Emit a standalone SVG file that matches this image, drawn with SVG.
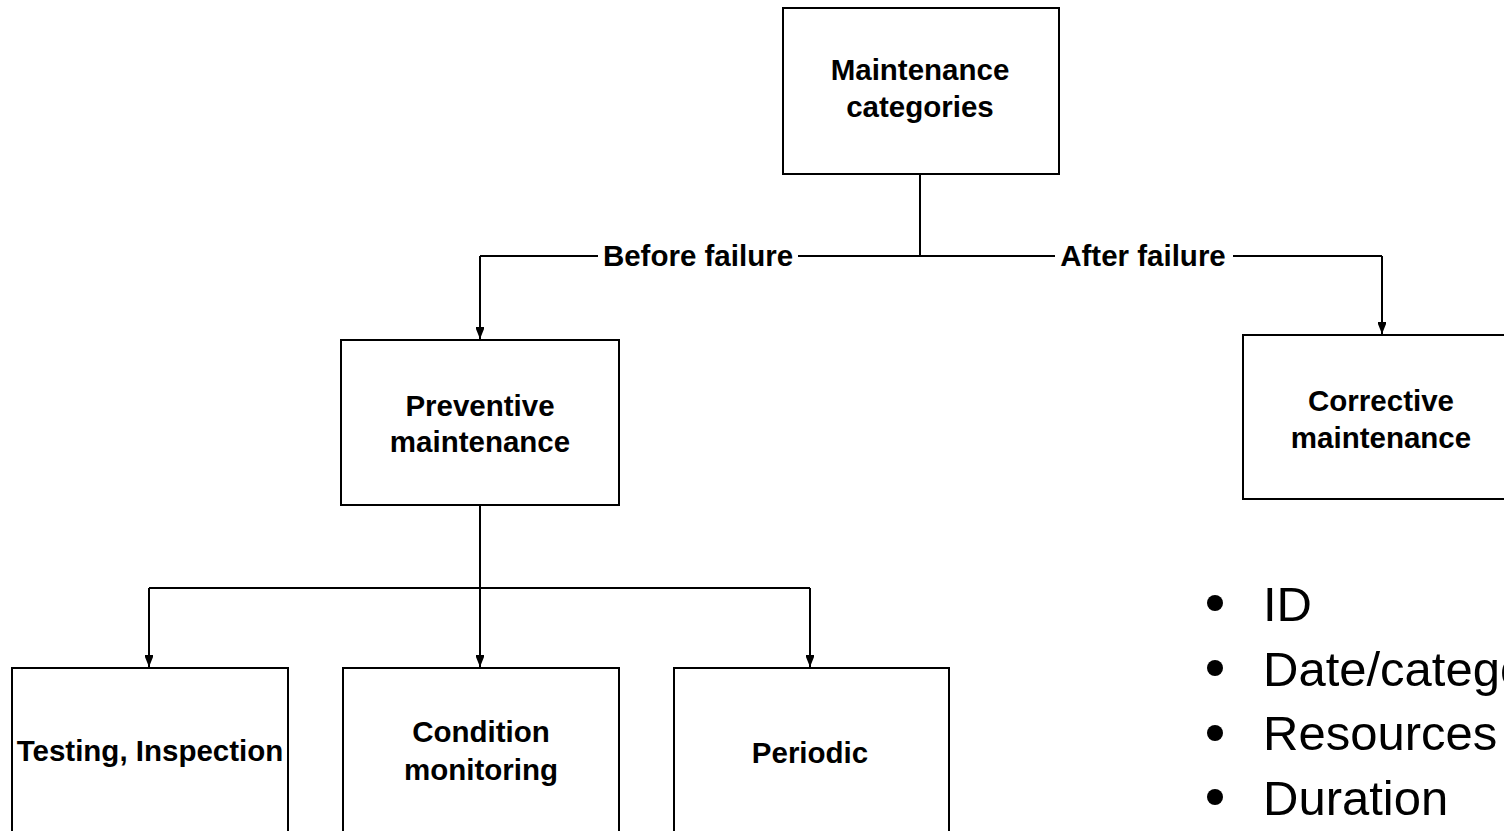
<svg xmlns="http://www.w3.org/2000/svg" width="1504" height="831" viewBox="0 0 1504 831">
<defs>
<marker id="arr" viewBox="0 0 10 12" refX="5" refY="12" markerWidth="10" markerHeight="12" markerUnits="userSpaceOnUse" orient="0">
<path d="M1,0 L9,0 L9,2 L5,12 L1,2 Z" fill="#000"/>
</marker>
<style>
.box{fill:#fff;stroke:#000;stroke-width:2}
.t{font-family:"Liberation Sans",Arial,sans-serif;font-weight:bold;font-size:29.5px;text-anchor:middle;fill:#000}
.c{fill:none;stroke:#000;stroke-width:2}
.b{font-family:"Liberation Sans",Arial,sans-serif;font-size:49px;fill:#000}
</style>
</defs>
<rect width="1504" height="831" fill="#fff"/>
<g id="connectors">
<path class="c" d="M920,174 V256 M480,256 H920 H1382"/>
<path class="c" d="M480,256 V339" marker-end="url(#arr)"/>
<path class="c" d="M1382,256 V334" marker-end="url(#arr)"/>
<path class="c" d="M480,505 V667" marker-end="url(#arr)"/>
<path class="c" d="M149,588 H810"/>
<path class="c" d="M149,588 V667" marker-end="url(#arr)"/>
<path class="c" d="M810,588 V667" marker-end="url(#arr)"/>
<rect x="598" y="240" width="200" height="32" fill="#fff"/>
<rect x="1055" y="240" width="178" height="32" fill="#fff"/>
<text class="t" x="698" y="266">Before failure</text>
<text class="t" x="1143" y="266">After failure</text>
</g>
<g id="root">
<rect class="box" x="783" y="8" width="276" height="166"/>
<text class="t" x="920" y="80">Maintenance</text>
<text class="t" x="920" y="117">categories</text>
</g>
<g id="preventive">
<rect class="box" x="341" y="340" width="278" height="165"/>
<text class="t" x="480" y="416">Preventive</text>
<text class="t" x="480" y="452">maintenance</text>
</g>
<g id="corrective">
<rect class="box" x="1243" y="335" width="270" height="164"/>
<text class="t" x="1381" y="411">Corrective</text>
<text class="t" x="1381" y="448">maintenance</text>
</g>
<g id="testing">
<rect class="box" x="12" y="668" width="276" height="175"/>
<text class="t" x="150" y="761">Testing, Inspection</text>
</g>
<g id="condition">
<rect class="box" x="343" y="668" width="276" height="175"/>
<text class="t" x="481" y="742">Condition</text>
<text class="t" x="481" y="780">monitoring</text>
</g>
<g id="periodic">
<rect class="box" x="674" y="668" width="275" height="175"/>
<text class="t" x="810" y="763">Periodic</text>
</g>
<g id="bullets">
<circle cx="1215" cy="603" r="8"/>
<circle cx="1215" cy="668" r="8"/>
<circle cx="1215" cy="733" r="8"/>
<circle cx="1215" cy="797" r="8"/>
<text class="b" x="1263" y="621">ID</text>
<text class="b" x="1263" y="686">Date/category</text>
<text class="b" x="1263" y="750">Resources used</text>
<text class="b" x="1263" y="815">Duration</text>
</g>
</svg>
